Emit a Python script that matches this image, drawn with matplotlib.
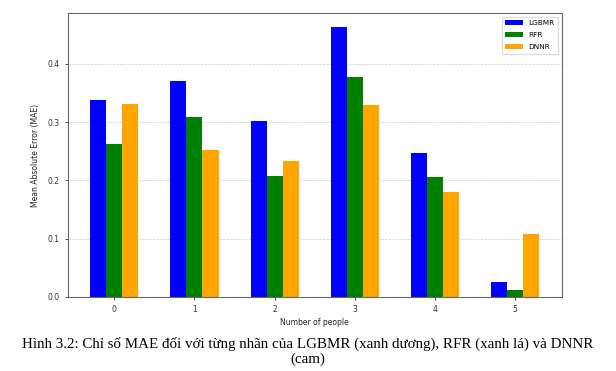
import numpy as np
import matplotlib
matplotlib.use("Agg")
import matplotlib.pyplot as plt

# Data
people = [0, 1, 2, 3, 4, 5]
mae_lgbmr = [0.338, 0.371, 0.302, 0.464, 0.247, 0.026]
mae_rfr = [0.262, 0.308, 0.208, 0.377, 0.206, 0.012]
mae_dnnr = [0.331, 0.252, 0.233, 0.329, 0.180, 0.108]
series_names = ['LGBMR', 'RFR', 'DNNR']
caption = ("Hình 3.2: Chỉ số MAE đối với từng nhãn của LGBMR (xanh dương), RFR (xanh lá) và DNNR\n"
           "(cam)")

fig = plt.figure(figsize=(6.16, 3.71), dpi=100)
ax = fig.add_axes([0.110, 0.1995, 0.802, 0.7655])

index = np.arange(len(people))
bar_width = 0.2

ax.bar(index - bar_width, mae_lgbmr, bar_width, color='blue', label=series_names[0], zorder=2)
ax.bar(index, mae_rfr, bar_width, color='green', label=series_names[1], zorder=2)
ax.bar(index + bar_width, mae_dnnr, bar_width, color='orange', label=series_names[2], zorder=2)

ax.set_xticks(index)
ax.set_xticklabels([str(p) for p in people])
ax.set_yticks([0.0, 0.1, 0.2, 0.3, 0.4])
ax.tick_params(labelsize=5.5, length=2.5, width=0.6, colors='#333333')
ax.yaxis.grid(True, linestyle='--', linewidth=0.5, color='#cccccc', zorder=0)
ax.set_axisbelow(True)

for s in ax.spines.values():
    s.set_color('#666666')
    s.set_linewidth(0.8)

ax.set_xlabel('Number of people', fontsize=5.5, labelpad=3, color='#222222')
ax.set_ylabel('Mean Absolute Error (MAE)', fontsize=5.5, labelpad=5, color='#222222')

ax.legend(loc='upper right', fontsize=5.3, handlelength=2.4, labelspacing=0.8,
          borderpad=0.45, framealpha=1, edgecolor='#dddddd', fancybox=True)

fig.text(0.5, 0.092, caption, ha='center', va='top', fontsize=10.8,
         family='Liberation Serif', linespacing=1.12)

fig.savefig('out.png', dpi=100)
